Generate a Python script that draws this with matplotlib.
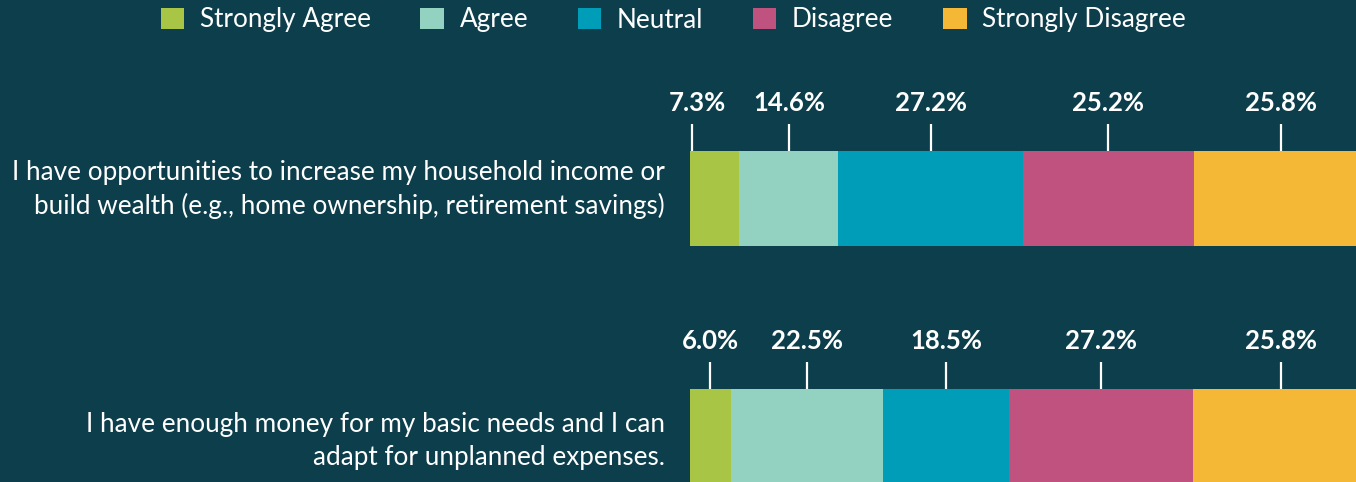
import matplotlib
matplotlib.use("Agg")
import matplotlib.pyplot as plt
from matplotlib import font_manager as fm
from matplotlib.patches import Patch

# ---- data ----
categories = [
    "I have opportunities to increase my household income or\nbuild wealth (e.g., home ownership, retirement savings)",
    "I have enough money for my basic needs and I can\nadapt for unplanned expenses.",
]
series_names = ["Strongly Agree", "Agree", "Neutral", "Disagree", "Strongly Disagree"]
strongly_agree = [7.3, 6.0]
agree = [14.6, 22.5]
neutral = [27.2, 18.5]
disagree = [25.2, 27.2]
strongly_disagree = [25.8, 25.8]
series_values = [strongly_agree, agree, neutral, disagree, strongly_disagree]

# ---- style ----
BG = "#0c3e4b"
COLORS = ["#a8c545", "#93d2c1", "#009db8", "#bf527e", "#f4b836"]

def pick(names):
    for n in names:
        try:
            fm.findfont(fm.FontProperties(family=n), fallback_to_default=False)
            return n
        except Exception:
            pass
    return "DejaVu Sans"

FONT = pick(["Lato", "DejaVu Sans"])

W, H = 1356, 482
fig = plt.figure(figsize=(W / 100, H / 100), dpi=100, facecolor=BG)

px_per_unit_x = 6.78
left_px = 690
ax = fig.add_axes([left_px / W, 0, (100 * px_per_unit_x) / W, 1])
ax.set_facecolor(BG)
spacing = 238.0
y0_px = 198.5
ax.set_ylim((H - y0_px) / spacing, -y0_px / spacing)
ax.set_xlim(0, 100)
ax.axis("off")

bar_h = 95 / spacing
ypos = list(range(len(categories)))

label_nudge = {(0, 0): -3.3}  # move crowded first label left

lefts = [0.0] * len(categories)
for si, (name, vals, col) in enumerate(zip(series_names, series_values, COLORS)):
    ax.barh(ypos, vals, left=lefts, height=bar_h, color=col, edgecolor="none", label=name)
    for ci, v in enumerate(vals):
        cx = lefts[ci] + v / 2 + label_nudge.get((ci, si), 0)
        top = ypos[ci] - bar_h / 2
        ax.plot([cx, cx], [top, top - 27 / spacing], color="white", lw=1.6,
                solid_capstyle="butt", clip_on=False)
        ax.text(cx + (0.8 if (ci, si) in label_nudge else 0), top - 48 / spacing,
                f"{v:.1f}%", ha="center", va="center", color="white",
                fontsize=18.5, fontweight="bold", family=FONT, clip_on=False)
    lefts = [l + v for l, v in zip(lefts, vals)]

cat_offsets = [-9 / spacing, 4.5 / spacing]
for ci, cat in enumerate(categories):
    ax.text(-25 / px_per_unit_x, ypos[ci] + cat_offsets[ci], cat, ha="right", va="center",
            color="white", fontsize=18.8, family=FONT, linespacing=1.42, clip_on=False)

handles = [Patch(facecolor=c, edgecolor="none") for c in COLORS]
leg = fig.legend(handles, series_names, loc="center", bbox_to_anchor=(0.4965, 1 - 20 / H),
                 ncol=5, frameon=False, handlelength=0.9, handleheight=0.9,
                 handletextpad=0.6, columnspacing=1.9,
                 prop={"family": FONT, "size": 18.8})
for t in leg.get_texts():
    t.set_color("white")

fig.savefig("out.png", dpi=100, facecolor=BG)
